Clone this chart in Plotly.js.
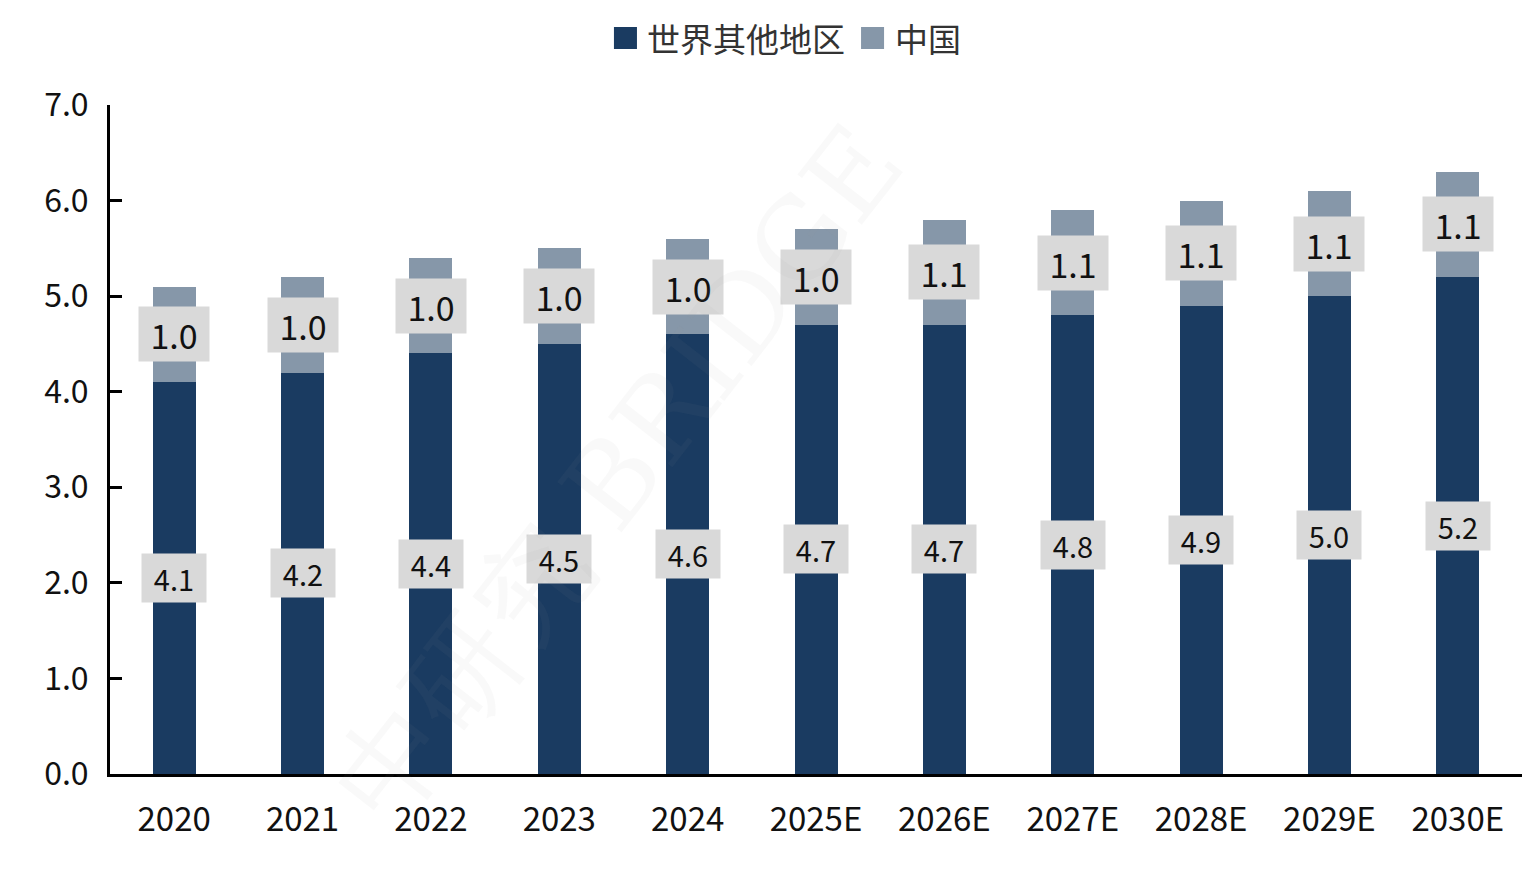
<!DOCTYPE html>
<html>
<head>
<meta charset="utf-8">
<script src="https://cdn.plot.ly/plotly-3.0.1.min.js"></script>
<style>
  html, body { margin: 0; padding: 0; background: #ffffff; }
  #chart { width: 1534px; height: 882px; }
</style>
</head>
<body>
<div id="chart"></div>
<script>
// Years (E = estimate)
const years = ['2020', '2021', '2022', '2023', '2024', '2025E', '2026E', '2027E', '2028E', '2029E', '2030E'];
// Rest of the world
const restOfWorld = [4.1, 4.2, 4.4, 4.5, 4.6, 4.7, 4.7, 4.8, 4.9, 5.0, 5.2];
// China
const china = [1.0, 1.0, 1.0, 1.0, 1.0, 1.0, 1.1, 1.1, 1.1, 1.1, 1.1];

const seriesNames = ['世界其他地区', '中国'];
const colors = ['#1a3b61', '#8697a9'];
const yTicks = [0, 1, 2, 3, 4, 5, 6, 7];

const FONT = '"Noto Sans CJK SC", "Noto Sans", sans-serif';

const traces = [
  {
    type: 'bar', name: seriesNames[0], x: years, y: restOfWorld,
    marker: { color: colors[0] }, hoverinfo: 'x+y', showlegend: false
  },
  {
    type: 'bar', name: seriesNames[1], x: years, y: china,
    marker: { color: colors[1] }, hoverinfo: 'x+y', showlegend: false
  }
];

// Value labels in grey boxes, centred in each segment (x given as category index)
const annotations = [];
years.forEach((yr, i) => {
  annotations.push({
    x: i, y: restOfWorld[i] / 2, xref: 'x', yref: 'y',
    text: restOfWorld[i].toFixed(1), showarrow: false,
    font: { family: FONT, size: 29, color: '#111111' },
    bgcolor: '#d9d9d9', width: 62, height: 46, borderpad: 1
  });
  annotations.push({
    x: i, y: restOfWorld[i] + china[i] / 2, xref: 'x', yref: 'y',
    text: china[i].toFixed(1), showarrow: false,
    font: { family: FONT, size: 34, color: '#111111' },
    bgcolor: '#d9d9d9', width: 68, height: 52, borderpad: 1
  });
});

// Legend drawn by hand so the swatches can be large squares
const legendX = [0.3569, 0.5319];      // swatch left edges (paper)
const swatchW = 0.0163, swatchY = [1.0837, 1.1166];
const shapes = [];
seriesNames.forEach((name, k) => {
  shapes.push({
    type: 'rect', xref: 'paper', yref: 'paper',
    x0: legendX[k], x1: legendX[k] + swatchW, y0: swatchY[0], y1: swatchY[1],
    fillcolor: colors[k], line: { width: 0 }
  });
  annotations.push({
    xref: 'paper', yref: 'paper', x: legendX[k] + swatchW + 0.006, y: 1.1001,
    xanchor: 'left', yanchor: 'middle', showarrow: false,
    text: name, font: { family: FONT, size: 33, color: '#333333' }
  });
});

// Faint publisher mark across the page
annotations.push({
  xref: 'paper', yref: 'paper', x: 0.36, y: 0.45, xanchor: 'center', yanchor: 'middle',
  text: '中研究 BRIDGE', showarrow: false, textangle: -52,
  font: { family: '"DejaVu Serif", serif', size: 112, color: 'rgba(150,150,150,0.06)' }
});

const layout = {
  width: 1534, height: 882,
  margin: { l: 110, r: 12, t: 105, b: 108 },
  paper_bgcolor: '#ffffff', plot_bgcolor: '#ffffff',
  barmode: 'stack', bargap: 0.665,
  font: { family: FONT, color: '#111111' },
  showlegend: false,
  xaxis: {
    type: 'category', showgrid: false, zeroline: false,
    showline: true, linecolor: '#000000', linewidth: 3,
    ticks: '', tickfont: { family: FONT, size: 33, color: '#111111' },
    ticklabelstandoff: 14
  },
  yaxis: {
    range: [0, 7], tickvals: yTicks, tickformat: '.1f',
    showgrid: false, zeroline: false,
    showline: true, linecolor: '#000000', linewidth: 3,
    ticks: 'inside', ticklen: 12, tickwidth: 3, tickcolor: '#000000',
    tickfont: { family: FONT, size: 32, color: '#111111' },
    ticklabelstandoff: 12
  },
  shapes: shapes,
  annotations: annotations
};

Plotly.newPlot('chart', traces, layout, { displayModeBar: false, staticPlot: true });
</script>
</body>
</html>
